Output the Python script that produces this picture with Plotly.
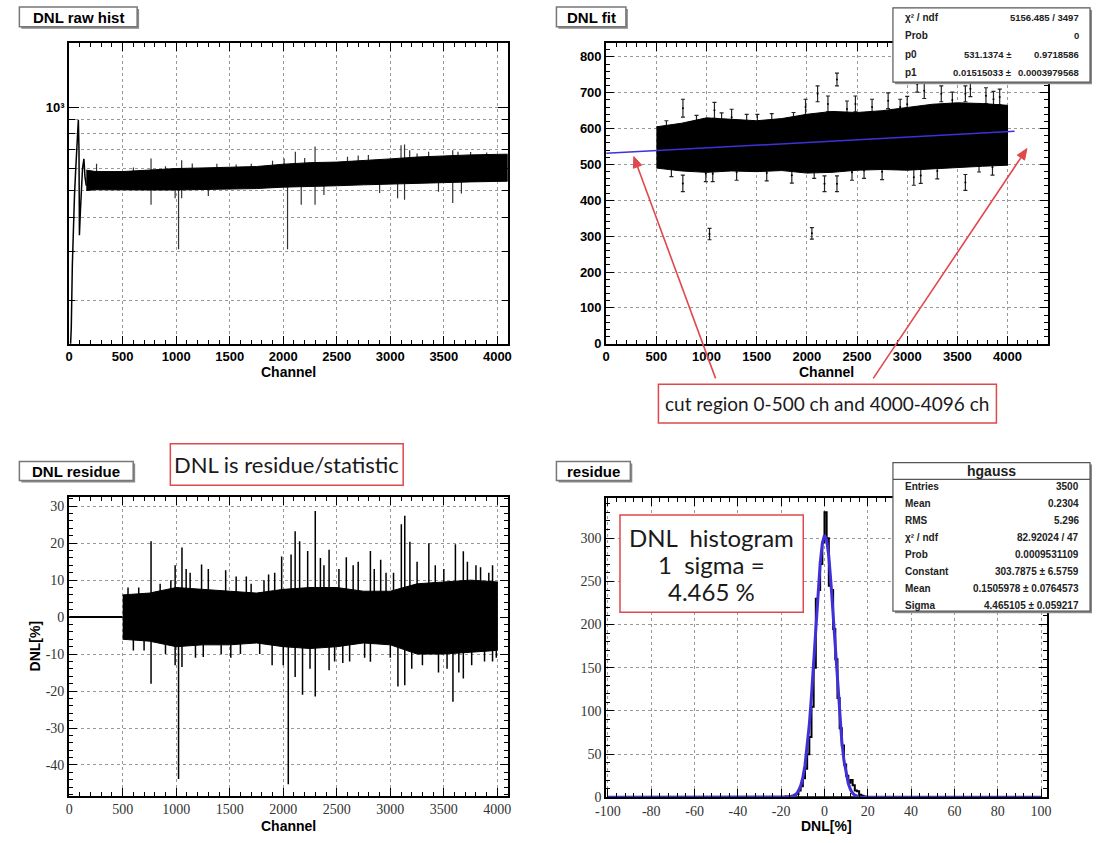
import numpy as np
import plotly.graph_objects as go

W, H = 1097, 843

# ---------------- Panel 1: DNL raw hist (log y) ----------------
RAW_START_CH = [10, 20, 30, 40, 50, 60, 70, 80, 86, 92, 96, 105, 115, 125, 138, 148, 160]
RAW_START_VAL = [130, 160, 270, 380, 480, 580, 700, 840, 900, 700, 345, 420, 540, 600, 650, 560, 520]
RAW_ENV_CH = [160, 250, 500, 750, 1000, 1250, 1500, 1750, 2000, 2250, 2500, 2750, 3000, 3250, 3500, 3750, 4096]
RAW_ENV_UP = [592, 585, 585, 592, 600, 603, 605, 610, 622, 630, 633, 640, 650, 660, 666, 672, 676]
RAW_ENV_LO = [500, 503, 503, 502, 502, 503, 505, 508, 514, 518, 520, 524, 530, 532, 534, 537, 540]
RAW_SPIKE_CH = [256, 765, 765, 990, 1022, 1051, 1051, 1380, 1701, 2008, 2040, 2113, 2168, 2297, 2297,
                2474, 2795, 3068, 3100, 3133, 3133, 3181, 3358, 3583, 3583, 3632, 3664,
                600, 900, 1150, 1300, 1560, 1900, 2200, 2380, 2600, 2700, 2900, 3250, 3450, 3750, 3900]
RAW_SPIKE_VAL = [624, 652, 444, 469, 307, 469, 643, 624, 624, 652, 307, 689, 444, 721, 444,
                 634, 671, 469, 728, 463, 733, 698, 689, 451, 698, 689, 488,
                 605, 612, 625, 478, 620, 640, 655, 482, 662, 668, 490, 680, 495, 688, 685]

# ---------------- Panel 2: DNL fit ----------------
FIT_ENV_CH = [500, 750, 1000, 1250, 1500, 1750, 2000, 2250, 2500, 2750, 3000, 3250, 3500, 3750, 4000]
FIT_ENV_UP = [605, 615, 630, 625, 622, 628, 640, 648, 645, 650, 658, 668, 672, 670, 665]
FIT_ENV_LO = [490, 482, 478, 482, 480, 483, 476, 478, 484, 486, 484, 488, 492, 495, 498]
FIT_OUT_CH = [765, 1079, 1250, 1507, 1867, 1987, 2107, 2210, 2300, 2484, 2810, 2930, 3100, 3170, 3340,
              3580, 3630, 3785, 3922,
              764, 993, 1062, 2073, 2176, 2300, 2570, 3066, 3135, 3580, 3716,
              1030, 2050,
              600, 900, 1150, 1400, 1650, 2400, 2650, 3000, 3450, 3860,
              650, 1300, 1600, 1850, 2450, 2750, 3300, 3850]
FIT_OUT_Y = [657, 651, 632, 618, 623, 660, 697, 669, 737, 669, 678, 660, 724, 706, 697,
             697, 711, 692, 688,
             447, 474, 474, 483, 446, 446, 483, 464, 469, 450, 501,
             306, 308,
             600, 615, 622, 618, 620, 655, 660, 668, 680, 682,
             488, 478, 476, 470, 478, 480, 482, 492]
FIT_OUT_ERR = [25, 22, 22, 22, 22, 22, 22, 22, 18, 22, 22, 22, 22, 22, 22,
               22, 22, 22, 22,
               23, 22, 22, 22, 22, 22, 22, 22, 22, 22, 22,
               16, 16,
               22, 22, 22, 22, 22, 22, 22, 22, 22, 22,
               22, 22, 22, 22, 22, 22, 22, 22]
FIT_LINE_X = [0, 4070]
FIT_LINE_Y = [531.1, 592.8]

# ---------------- Panel 3: DNL residue ----------------
RES_ZERO_X = [0, 500]
RES_ENV_CH = [500, 750, 1000, 1250, 1500, 1750, 2000, 2250, 2500, 2750, 3000, 3250, 3500, 3750, 4000]
RES_ENV_UP = [6.0, 6.5, 8.0, 7.5, 7.0, 6.5, 7.5, 8.0, 8.0, 7.0, 7.0, 9.0, 9.5, 10.0, 9.5]
RES_ENV_LO = [-6.0, -6.5, -8.0, -7.5, -7.5, -7.0, -8.0, -8.5, -8.0, -7.0, -7.5, -10.0, -10.0, -9.5, -9.0]
RES_SPIKE_CH = [765, 765, 990, 990, 1022, 1054, 1054, 1093, 1237, 1253, 1462, 1510, 1655, 1863, 1896,
                1985, 2047, 2073, 2111, 2111, 2153, 2180, 2228, 2299, 2299, 2347, 2428, 2428, 2556,
                2589, 2653, 2814, 2814, 2910, 3071, 3103, 3135, 3135, 3183, 3360, 3585, 3608, 3682,
                3682, 3843, 3955, 3955,
                550, 600, 650, 700, 850, 900, 950, 1130, 1180, 1300, 1420, 1560, 1600, 1700, 1780,
                1820, 1920, 2000, 2250, 2380, 2480, 2520, 2620, 2700, 2760, 2850, 2960, 3000, 3030,
                3200, 3250, 3300, 3420, 3450, 3500, 3530, 3640, 3720, 3760, 3800, 3880, 3920, 3990]
RES_SPIKE_VAL = [20.5, -18, 14, -13, -43.8, 18.8, -13.5, 13, 14.2, -10.8, 12.7, -11, 11, 11.5, -13,
                 16.4, -45.2, 16.9, 23.2, -16.2, 20.5, -21, 17.9, 28.7, -21.5, 16, 18.2, -14.4, -12.4,
                 16.2, 14, 17.9, -12.1, 15.5, -18.8, 25.1, 27.4, -18.4, 20.4, 20, -22.9, 19.7, 17.8,
                 -16.6, 13.5, 14, -12,
                 8, -9, 8, -9, 9, -10, 10, 12, -11, 13, -10, 11, -10, 9, -10,
                 10, 12, -13, -14, 14, -12, 13, -12, 15, -11, 13, 12, -11, 12,
                 -14, 15, -13, 14, -15, 13, -14, -15, 15, -13, 14, -12, 12, -11]

# ---------------- Panel 4: residue histogram ----------------
HIST_RANGE = [-100, 100]
HIST_EDGES = list(range(-20, 21))
HIST_COUNTS = [0, 0, 1, 1, 1, 2, 3, 4, 8, 13, 22, 33, 50, 70, 105, 150, 230, 240, 270, 295,
               330, 300, 245, 240, 195, 160, 115, 80, 60, 38, 25, 17, 20, 14, 8, 7, 3, 2, 1, 0]
GAUSS_X = [-100, -30, -20, -16, -15, -14, -13, -12, -11, -10, -9, -8, -7, -6, -5, -4, -3, -2, -1, 0,
           1, 2, 3, 4, 5, 6, 7, 8, 9, 10, 11, 12, 13, 14, 15, 16, 20, 30, 100]
GAUSS_Y = [0, 0, 0.02, 0.45, 0.96, 2.0, 4.0, 7.5, 13.4, 22.9, 37.2, 57.4, 84.3, 117.7, 156.3, 197.2,
           236.9, 270.5, 293.9, 303.6, 298.4, 278.8, 247.8, 209.5, 168.4, 128.8, 93.6, 64.7, 42.6,
           26.6, 15.9, 9.0, 4.8, 2.5, 1.2, 0.56, 0.02, 0, 0]


def px(x):
    return x / W


def py(y):
    return 1 - y / H


def seg_xy(xs, y0s, y1s):
    X, Y = [], []
    for x, a, b in zip(xs, y0s, y1s):
        X += [x, x, None]
        Y += [a, b, None]
    return X, Y


fig = go.Figure()
BLACK = 'black'
FITBLUE = '#4030d8'

# ---- Panel 1 traces
raw_mid = (np.array(RAW_ENV_UP) + np.array(RAW_ENV_LO)) / 2
base1 = np.interp(RAW_SPIKE_CH, RAW_ENV_CH, raw_mid)
sx, sy = seg_xy(RAW_SPIKE_CH, base1, RAW_SPIKE_VAL)
fig.add_trace(go.Scatter(x=sx, y=sy, mode='lines', line=dict(color='#333', width=1.2),
                         xaxis='x', yaxis='y', hoverinfo='skip'))
fig.add_trace(go.Scatter(x=RAW_ENV_CH + RAW_ENV_CH[::-1], y=RAW_ENV_UP + RAW_ENV_LO[::-1],
                         fill='toself', fillcolor=BLACK, mode='lines',
                         line=dict(color=BLACK, width=1), xaxis='x', yaxis='y', hoverinfo='skip'))
fig.add_trace(go.Scatter(x=RAW_START_CH, y=RAW_START_VAL, mode='lines',
                         line=dict(color=BLACK, width=1.5), xaxis='x', yaxis='y', hoverinfo='skip'))

# ---- Panel 2 traces
fig.add_trace(go.Scatter(x=FIT_OUT_CH, y=FIT_OUT_Y, mode='markers',
                         marker=dict(size=2, color=BLACK),
                         error_y=dict(type='data', array=FIT_OUT_ERR, color='#222', thickness=1.2, width=2),
                         xaxis='x2', yaxis='y2', hoverinfo='skip'))
fig.add_trace(go.Scatter(x=FIT_ENV_CH + FIT_ENV_CH[::-1], y=FIT_ENV_UP + FIT_ENV_LO[::-1],
                         fill='toself', fillcolor=BLACK, mode='lines',
                         line=dict(color=BLACK, width=1), xaxis='x2', yaxis='y2', hoverinfo='skip'))
fig.add_trace(go.Scatter(x=FIT_LINE_X, y=FIT_LINE_Y, mode='lines',
                         line=dict(color=FITBLUE, width=1.5), xaxis='x2', yaxis='y2', hoverinfo='skip'))

# ---- Panel 3 traces
fig.add_trace(go.Scatter(x=RES_ZERO_X, y=[0, 0], mode='lines', line=dict(color=BLACK, width=2),
                         xaxis='x3', yaxis='y3', hoverinfo='skip'))
fig.add_trace(go.Scatter(x=RES_ENV_CH + RES_ENV_CH[::-1], y=RES_ENV_UP + RES_ENV_LO[::-1],
                         fill='toself', fillcolor=BLACK, mode='lines',
                         line=dict(color=BLACK, width=1), xaxis='x3', yaxis='y3', hoverinfo='skip'))
sx, sy = seg_xy(RES_SPIKE_CH, [0] * len(RES_SPIKE_CH), RES_SPIKE_VAL)
fig.add_trace(go.Scatter(x=sx, y=sy, mode='lines', line=dict(color=BLACK, width=1.5),
                         xaxis='x3', yaxis='y3', hoverinfo='skip'))

# ---- Panel 4 traces
fig.add_trace(go.Scatter(x=HIST_RANGE, y=[0, 0], mode='lines', line=dict(color=BLACK, width=2),
                         xaxis='x4', yaxis='y4', hoverinfo='skip'))
fig.add_trace(go.Scatter(x=HIST_EDGES, y=HIST_COUNTS + [HIST_COUNTS[-1]], mode='lines',
                         line=dict(color=BLACK, width=2, shape='hv'),
                         xaxis='x4', yaxis='y4', hoverinfo='skip'))
fig.add_trace(go.Scatter(x=GAUSS_X, y=GAUSS_Y, mode='lines', line=dict(color=FITBLUE, width=3),
                         xaxis='x4', yaxis='y4', hoverinfo='skip'))

# ---------------- axes ----------------
F_BOLD = dict(family='Liberation Sans, Arial, sans-serif', size=13, color='black', weight='bold')
F_SERIF = dict(family='Liberation Serif, Times New Roman, serif', size=14, color='#333')


def axis(font, **kw):
    d = dict(showline=True, linewidth=2, linecolor='black', mirror='ticks', ticks='inside',
             ticklen=8, tickwidth=1, tickcolor='black', showgrid=True, gridcolor='#999999',
             griddash='dot', gridwidth=1, zeroline=False, tickfont=font, fixedrange=True)
    d.update(kw)
    return d


def minor(step):
    return dict(tickmode='linear', tick0=0, dtick=step, ticks='inside', ticklen=4,
                tickcolor='black', showgrid=False)


P1X = [px(59), px(504)]
P2X = [px(604), px(1052)]
TOPY = [py(347), py(43)]
P3X = [px(59), px(504)]
P4X = [px(604), px(1051)]
P3Y = [py(803.3), py(501.7)]
P4Y = [py(805), py(502.7)]

ch_ticks = list(range(0, 4001, 500))
log_minor = [200, 300, 400, 500, 600, 700, 800, 900]

fig.update_layout(
    xaxis=axis(F_BOLD, domain=P1X, anchor='y', range=[0, 4096], tickmode='array',
               tickvals=ch_ticks, ticktext=[str(v) for v in ch_ticks], minor=minor(100)),
    yaxis=axis(F_BOLD, domain=TOPY, anchor='x', type='log', range=[np.log10(140), np.log10(1708)],
               tickmode='array', tickvals=[1000], ticktext=['10³'], ticklen=10,
               minor=dict(tickmode='array', tickvals=log_minor, ticks='inside', ticklen=6,
                          tickcolor='black', showgrid=True, gridcolor='#999999', griddash='dot',
                          gridwidth=1)),
    xaxis2=axis(F_BOLD, domain=P2X, anchor='y2', range=[0, 4400], tickmode='array',
                tickvals=ch_ticks, ticktext=[str(v) for v in ch_ticks], minor=minor(100)),
    yaxis2=axis(F_BOLD, domain=TOPY, anchor='x2', range=[0, 840], tickmode='array',
                tickvals=list(range(0, 801, 100)), ticktext=[str(v) for v in range(0, 801, 100)],
                minor=minor(20)),
    xaxis3=axis(F_SERIF, domain=P3X, anchor='y3', range=[0, 4096], tickmode='array',
                tickvals=ch_ticks, ticktext=[str(v) for v in ch_ticks], minor=minor(100)),
    yaxis3=axis(F_SERIF, domain=P3Y, anchor='x3', range=[-48.3, 32.5], tickmode='array',
                tickvals=list(range(-40, 31, 10)), ticktext=[str(v) for v in range(-40, 31, 10)],
                minor=minor(2)),
    xaxis4=axis(F_SERIF, domain=P4X, anchor='y4', range=[-100.8, 102.6], tickmode='array',
                tickvals=list(range(-100, 101, 20)), ticktext=[str(v) for v in range(-100, 101, 20)],
                minor=minor(4)),
    yaxis4=axis(F_SERIF, domain=P4Y, anchor='x4', range=[0, 346.6], tickmode='array',
                tickvals=list(range(0, 301, 50)), ticktext=[str(v) for v in range(0, 301, 50)],
                minor=minor(10)),
)

# ---------------- shapes & annotations ----------------
shapes = []
annots = []


def rect(x0, y0, x1, y1, line='#555', lw=1, fill='white', shadow=True):
    if shadow:
        shapes.append(dict(type='rect', xref='paper', yref='paper', x0=px(x0 + 2), y0=py(y1 + 2),
                           x1=px(x1 + 2), y1=py(y0 + 2), line=dict(width=0), fillcolor='#8a8a8a',
                           layer='above'))
    shapes.append(dict(type='rect', xref='paper', yref='paper', x0=px(x0), y0=py(y1), x1=px(x1),
                       y1=py(y0), line=dict(color=line, width=lw), fillcolor=fill, layer='above'))


def text(x, y, s, font, xanchor='center', textangle=0):
    annots.append(dict(xref='paper', yref='paper', x=px(x), y=py(y), text=s, showarrow=False,
                       xanchor=xanchor, yanchor='middle', font=font, textangle=textangle,
                       borderpad=0))


F_TITLE = dict(family='Liberation Sans, Arial, sans-serif', size=15, color='black', weight='bold')
F_AXT = dict(family='Liberation Sans, Arial, sans-serif', size=14, color='black', weight='bold')
F_STAT = dict(family='Liberation Sans, Arial, sans-serif', size=10, color='#222', weight='bold')
F_KEY = dict(family='Lato, Open Sans, sans-serif', size=22, color='#1a1a1a')
RED = '#e0484c'

# Title boxes
for (x0, y0, x1, y1, s) in [(8.5, 7, 128, 27, 'DNL raw hist'), (553.5, 7, 624, 27, 'DNL fit'),
                            (8.5, 466, 124, 485, 'DNL residue'), (553.5, 466, 628.5, 485, 'residue')]:
    rect(x0, y0, x1, y1, line='#777', lw=1.5, shadow=True)
    text((x0 + x1) / 2, (y0 + y1) / 2 + 0.5, s, F_TITLE)

# Axis titles
text(281.5, 376, 'Channel', F_AXT)
text(828, 376, 'Channel', F_AXT)
text(281.5, 834, 'Channel', F_AXT)
text(828, 834, 'DNL[%]', F_AXT)
text(24, 652, 'DNL[%]', F_AXT, textangle=-90)

# Stats box panel 2
rect(895, 8, 1095, 83, line='#555', lw=1.2, shadow=True)
rows2 = [('χ² / ndf', '', '5156.485 / 3497'), ('Prob', '', '0'),
         ('p0', '531.1374 ±', '0.9718586'), ('p1', '0.01515033 ±', '0.0003979568')]
for i, (a, b, c) in enumerate(rows2):
    yy = 18 + i * 18.3
    text(906, yy, a, F_STAT, xanchor='left')
    if b:
        text(1016, yy, b, dict(F_STAT, size=9.5), xanchor='right')
    text(1085, yy, c, dict(F_STAT, size=9.5), xanchor='right')

# Stats box panel 4
rect(895, 467, 1095, 617, line='#555', lw=1.2, shadow=True)
text(995, 475.5, 'hgauss', dict(F_STAT, size=14))
shapes.append(dict(type='line', xref='paper', yref='paper', x0=px(895), x1=px(1095), y0=py(484),
                   y1=py(484), line=dict(color='#555', width=1.2), layer='above'))
rows4 = [('Entries', '3500'), ('Mean', '0.2304'), ('RMS', '5.296'), ('χ² / ndf', '82.92024 / 47'),
         ('Prob', '0.0009531109'), ('Constant', '303.7875 ± 6.5759'),
         ('Mean', '0.1505978 ± 0.0764573'), ('Sigma', '4.465105 ± 0.059217')]
for i, (a, b) in enumerate(rows4):
    yy = 491.5 + i * 17.1
    text(906, yy, a, F_STAT, xanchor='left')
    text(1085, yy, b, F_STAT, xanchor='right')

# Red call-out boxes
rect(161.7, 448, 398, 490, line=RED, lw=1.5, shadow=False)
text(280, 469, 'DNL is residue/statistic', F_KEY)
rect(657, 388, 1000, 427, line=RED, lw=1.5, shadow=False)
text(828.5, 407.5, 'cut region 0-500 ch and 4000-4096 ch', dict(F_KEY, size=19))
rect(618, 520, 804, 618, line=RED, lw=1.5, shadow=False)
text(711, 543, 'DNL  histogram', dict(F_KEY, size=24))
text(711, 570, '1  sigma =', dict(F_KEY, size=24))
text(711, 597, '4.465 %', dict(F_KEY, size=24))

# Red arrows (line + filled head), in pixel geometry
for (tx, ty, sx0, sy0) in [(632, 158, 715, 382), (1031, 150, 875, 382)]:
    dx, dy = tx - sx0, ty - sy0
    L = (dx * dx + dy * dy) ** 0.5
    ux, uy = dx / L, dy / L
    hl, hw = 11, 4.5
    bx, by = tx - ux * hl, ty - uy * hl
    shapes.append(dict(type='line', xref='paper', yref='paper', x0=px(sx0), y0=py(sy0),
                       x1=px(bx), y1=py(by), line=dict(color=RED, width=1.6), layer='above'))
    p1 = (bx - uy * hw, by + ux * hw)
    p2 = (bx + uy * hw, by - ux * hw)
    path = 'M {} {} L {} {} L {} {} Z'.format(px(tx), py(ty), px(p1[0]), py(p1[1]), px(p2[0]), py(p2[1]))
    shapes.append(dict(type='path', xref='paper', yref='paper', path=path, fillcolor=RED,
                       line=dict(color=RED, width=1), layer='above'))

fig.update_layout(
    width=W, height=H, margin=dict(l=0, r=0, t=0, b=0), paper_bgcolor='white', plot_bgcolor='white',
    showlegend=False, shapes=shapes, annotations=annots,
)

fig.write_html('out.html')
